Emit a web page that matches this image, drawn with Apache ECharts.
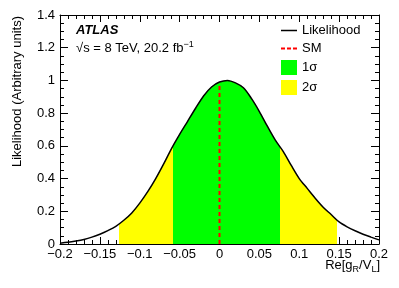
<!DOCTYPE html>
<html>
<head>
<meta charset="utf-8">
<script src="https://cdn.jsdelivr.net/npm/echarts@6/dist/echarts.min.js"></script>
<style>
html,body{margin:0;padding:0;background:#fff;}
#chart{width:399px;height:288px;}
</style>
</head>
<body>
<div id="chart"></div>
<script>
// ---- data ----
const xValues = [-0.20,-0.19,-0.18,-0.17,-0.16,-0.15,-0.14,-0.13,-0.12,-0.11,-0.10,-0.09,-0.08,-0.07,-0.06,-0.05,-0.04,-0.03,-0.02,-0.01,0.00,0.01,0.02,0.03,0.04,0.05,0.06,0.07,0.08,0.09,0.10,0.11,0.12,0.13,0.14,0.15,0.16,0.17,0.18,0.19,0.20];
const likelihood = [0.005,0.010,0.018,0.028,0.042,0.060,0.082,0.108,0.145,0.190,0.250,0.320,0.400,0.490,0.585,0.670,0.750,0.830,0.905,0.960,0.990,1.000,0.985,0.955,0.890,0.810,0.720,0.635,0.565,0.480,0.400,0.340,0.280,0.225,0.180,0.135,0.105,0.081,0.060,0.042,0.025];
const smX = [0, 0];
const smY = [0, 0.985];
const band1Sigma = [-0.058, 0.076];
const band2Sigma = [-0.126, 0.147];
const legendNames = ['Likelihood', 'SM', '1σ', '2σ'];

const FONT = 'Liberation Sans';
const curve = xValues.map((x, i) => [x, likelihood[i]]);
const smLine = smX.map((x, i) => [x, smY[i]]);
const fmtX = v => (Math.abs(v) < 1e-9 ? '0' : String(+v.toFixed(2)).replace('-', '\u2212'));
const fmtY = v => String(+v.toFixed(2));

const chart = echarts.init(document.getElementById('chart'), null, {renderer: 'canvas'});
const baseX = {
  type: 'value', min: -0.2, max: 0.2, interval: 0.05,
  axisLine: {show: true, onZero: false, lineStyle: {color: '#000', width: 1}},
  axisTick: {show: true, inside: true, length: 7, lineStyle: {color: '#000'}},
  minorTick: {show: true, splitNumber: 5, length: 4, lineStyle: {color: '#000'}},
  splitLine: {show: false}
};
const baseY = {
  type: 'value', min: 0, max: 1.4, interval: 0.2,
  axisLine: {show: true, onZero: false, lineStyle: {color: '#000', width: 1}},
  axisTick: {show: true, inside: true, length: 8, lineStyle: {color: '#000'}},
  minorTick: {show: true, splitNumber: 4, length: 4, lineStyle: {color: '#000'}},
  splitLine: {show: false}
};
const option = {
  animation: false,
  backgroundColor: '#fff',
  textStyle: {fontFamily: FONT},
  grid: {left: 60, right: 20, top: 15, bottom: 44, containLabel: false},
  xAxis: [
    Object.assign({}, baseX, {position: 'bottom', axisLabel: {show: true, formatter: fmtX, color: '#000', fontSize: 13, fontFamily: FONT, margin: 4}}),
    Object.assign({}, baseX, {position: 'top', axisLabel: {show: false}})
  ],
  yAxis: [
    Object.assign({}, baseY, {position: 'left', axisLabel: {show: true, formatter: fmtY, color: '#000', fontSize: 13, fontFamily: FONT, margin: 5}}),
    Object.assign({}, baseY, {position: 'right', axisLabel: {show: false}})
  ],
  visualMap: [
    {type: 'piecewise', show: false, seriesIndex: 0, dimension: 0,
     pieces: [{gte: band2Sigma[0], lte: band2Sigma[1], color: '#ffff00'}],
     outOfRange: {color: 'rgba(255,255,255,0)'}},
    {type: 'piecewise', show: false, seriesIndex: 1, dimension: 0,
     pieces: [{gte: band1Sigma[0], lte: band1Sigma[1], color: '#00ff00'}],
     outOfRange: {color: 'rgba(255,255,255,0)'}}
  ],
  legend: {
    orient: 'vertical', left: 281, top: 24, itemWidth: 16, itemHeight: 15, itemGap: 5, padding: 0,
    textStyle: {fontSize: 13, color: '#000', fontFamily: FONT},
    data: [
      {name: legendNames[0], icon: 'path://M0,7L16,7L16,8.5L0,8.5Z', itemStyle: {color: '#000'}},
      {name: legendNames[1], icon: 'path://M0,7h4v2h-4z M6,7h4v2h-4z M12,7h4v2h-4z', itemStyle: {color: '#ff0000'}},
      {name: legendNames[2], icon: 'rect', itemStyle: {color: '#00ff00'}},
      {name: legendNames[3], icon: 'rect', itemStyle: {color: '#ffff00'}}
    ]
  },
  series: [
    {name: legendNames[3], type: 'line', data: curve, smooth: 0.3, symbol: 'none',
     lineStyle: {width: 0}, areaStyle: {opacity: 1}, z: 1, silent: true},
    {name: legendNames[2], type: 'line', data: curve, smooth: 0.3, symbol: 'none',
     lineStyle: {width: 0}, areaStyle: {opacity: 1}, z: 2, silent: true},
    {name: legendNames[1], type: 'line', data: smLine, symbol: 'none', z: 3,
     itemStyle: {color: '#ff0000'},
     lineStyle: {color: '#ff0000', width: 2, type: [4, 3]}},
    {name: legendNames[0], type: 'line', data: curve, smooth: 0.3, symbol: 'none', z: 4,
     itemStyle: {color: '#000'},
     lineStyle: {color: '#000', width: 1.5}}
  ],
  graphic: [
    {type: 'text', left: 76, top: 24, z: 10,
     style: {text: 'ATLAS', font: 'italic bold 13px "Liberation Sans"', fill: '#000'}},
    {type: 'text', left: 76, top: 40, z: 10,
     style: {text: '\u221As = 8 TeV, 20.2 fb{sup|\u22121}', fill: '#000', font: '13px "Liberation Sans"',
       rich: {sup: {fontSize: 9, fontFamily: FONT, verticalAlign: 'top', padding: [0, 0, 8, 0]}}}},
    {type: 'text', x: 17, y: 16, rotation: Math.PI / 2, z: 10,
     style: {text: 'Likelihood (Arbitrary units)', fill: '#000', font: '13px "Liberation Sans"',
       align: 'right', verticalAlign: 'middle'}},
    {type: 'text', right: 19, top: 259, z: 10,
     style: {text: 'Re[g{sub|R}/V{sub|L}]', fill: '#000', font: '13px "Liberation Sans"',
       rich: {sub: {fontSize: 9, fontFamily: FONT, verticalAlign: 'bottom', padding: [8, 0, 0, 0]}}}}
  ]
};
chart.setOption(option);
</script>
</body>
</html>
